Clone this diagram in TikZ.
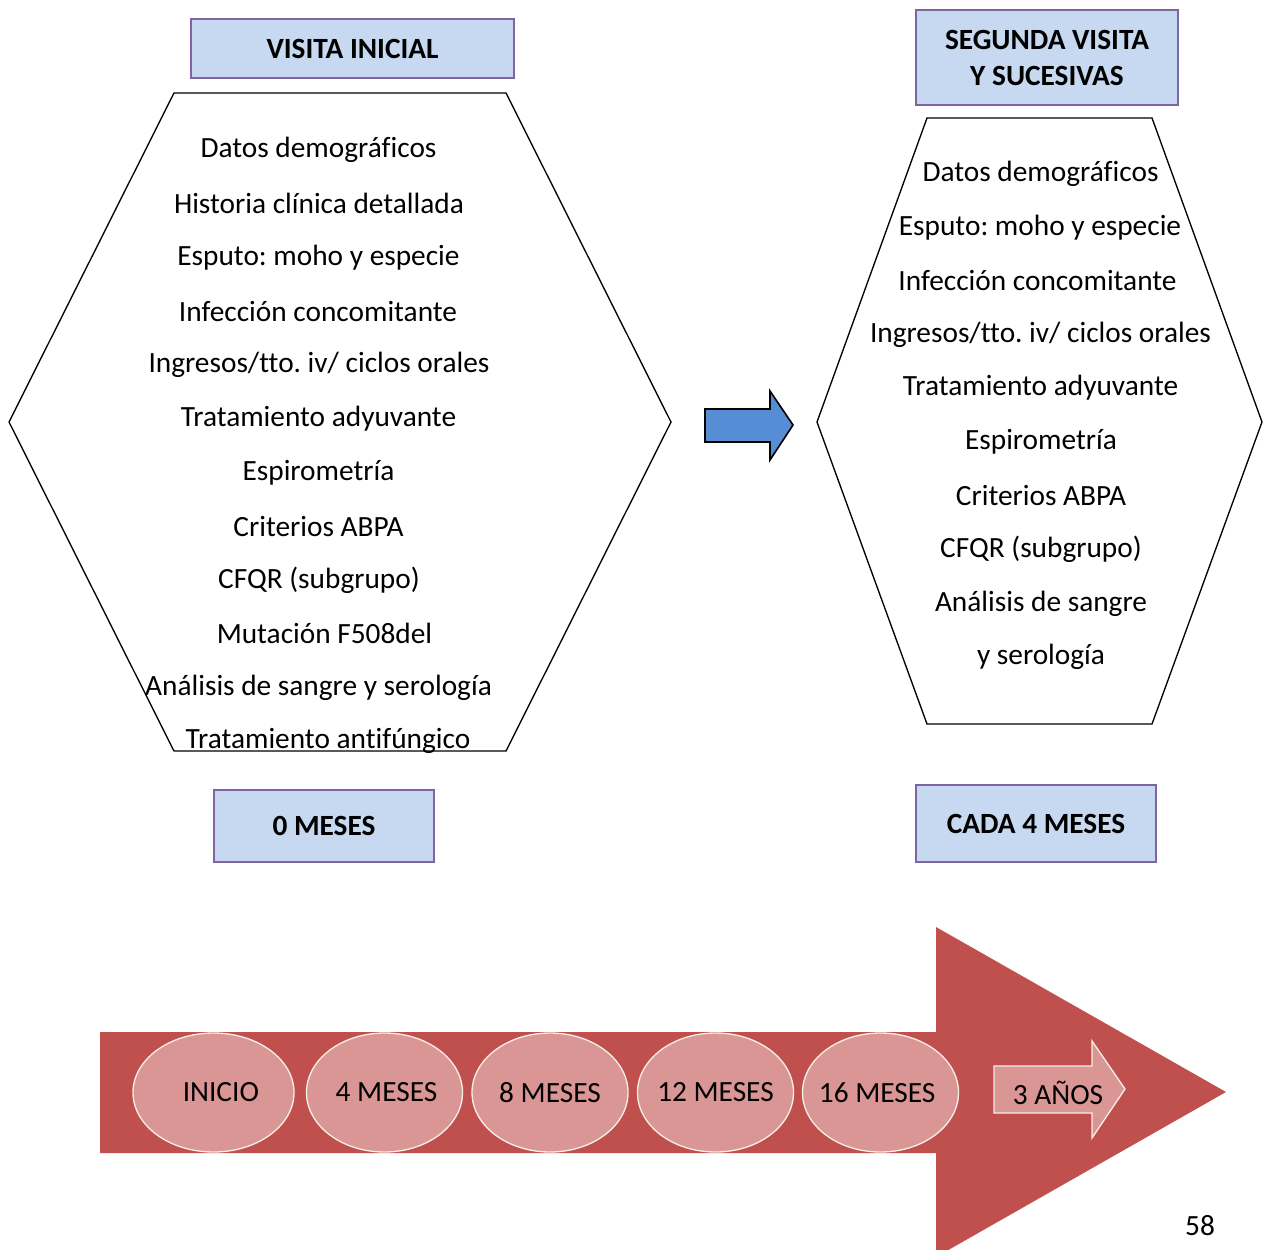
\documentclass[tikz,border=0pt]{standalone}
\usepackage{fontspec}
\setmainfont{Carlito}[Ligatures=NoCommon]
\usepackage{xcolor}
\usetikzlibrary{shapes.geometric}
\frenchspacing

\definecolor{hdrfill}{HTML}{C6D9F1}
\definecolor{hdrline}{HTML}{8064A2}
\definecolor{arrowblue}{HTML}{558ED5}
\definecolor{timered}{HTML}{C0504D}
\definecolor{stagepink}{HTML}{D99694}
\definecolor{stageline}{HTML}{F4EFE4}

\newcommand{\stagelabel}[1]{\makebox[0pt]{#1}}

\tikzset{
  hdrbox/.style={draw=hdrline, fill=hdrfill, line width=1.5pt, inner sep=0pt, align=center,
    font=\fontsize{22}{27}\selectfont\bfseries},
  item/.style={inner sep=0.75pt, yshift=-2pt, font=\fontsize{22}{26}\selectfont},
  stage/.style={ellipse, draw=stageline, fill=stagepink, line width=1pt, inner sep=0pt,
    minimum width=117pt, minimum height=89.25pt, font=\fontsize{22}{26}\selectfont}
}

\begin{document}
\begin{tikzpicture}[x=0.75pt,y=0.75pt,yscale=-1,xscale=1]
    \path[use as bounding box, clip] (0,0) rectangle (1263,1249);

    %Shape: Hexagon left
    \draw [line width=1pt]  (174,93) -- (506,93) -- (671,422) -- (506,751) -- (174,751) -- (9,422) -- cycle ;
    %Shape: Hexagon right
    \draw [line width=1pt]  (927,118) -- (1152,118) -- (1262,422) -- (1152,724) -- (927,724) -- (817,422) -- cycle ;

    %Shape: Right Arrow (blue)
    \draw [fill=arrowblue, line width=1.2pt]  (705,409) -- (770,409) -- (770,391) -- (793,425) -- (770,460) -- (770,442) -- (705,442) -- cycle ;

    %Shape: Right Arrow (timeline)
    \fill [timered]  (100,1032) -- (936,1032) -- (936,927) -- (1226,1092) -- (936,1257) -- (936,1153) -- (100,1153) -- cycle ;
    %Shape: Right Arrow (small)
    \draw [fill=stagepink, draw=stageline, line width=1pt]  (994,1066) -- (1092,1066) -- (1092,1041) -- (1125,1089) -- (1092,1138) -- (1092,1113) -- (994,1113) -- cycle ;

    % Header boxes
    \node (visita) [hdrbox, minimum width=242.25pt, minimum height=44.25pt] at (352.5,48.5) {VISITA INICIAL};
    \node (segunda) [hdrbox, minimum width=196.5pt, minimum height=71.25pt] at (1047,57.5) {SEGUNDA VISITA\\Y SUCESIVAS};
    \node (cero) [hdrbox, minimum width=165pt, minimum height=54pt] at (324,826) {0 MESES};
    \node (cada) [hdrbox, minimum width=180pt, minimum height=57.75pt] at (1036,823.5) {CADA 4 MESES};

    % Text Node (left list)
    \node (l1) [item] at (318.5,147) {Datos demográficos};
    \node (l2) [item] at (319,201) {Historia clínica detallada};
    \node (l3) [item] at (318.5,255) {Esputo: moho y especie};
    \node (l4) [item] at (318,309) {Infección concomitante};
    \node (l5) [item] at (319,362) {Ingresos/tto. iv/ ciclos orales};
    \node (l6) [item] at (318.5,416) {Tratamiento adyuvante};
    \node (l7) [item] at (318.5,470) {Espirometría};
    \node (l8) [item] at (318.5,524) {Criterios ABPA};
    \node (l9) [item] at (319,578) {CFQR (subgrupo)};
    \node (l10) [item] at (324.5,631) {Mutación F508del};
    \node (l11) [item] at (318.5,685) {Análisis de sangre y serología};
    \node (l12) [item] at (328,738) {Tratamiento antifúngico};

    % Text Node (right list)
    \node (r1) [item] at (1040.5,171) {Datos demográficos};
    \node (r2) [item] at (1040,225) {Esputo: moho y especie};
    \node (r3) [item] at (1037.5,278) {Infección concomitante};
    \node (r4) [item] at (1040.5,332) {Ingresos/tto. iv/ ciclos orales};
    \node (r5) [item] at (1040.5,385) {Tratamiento adyuvante};
    \node (r6) [item] at (1041,439) {Espirometría};
    \node (r7) [item] at (1041,493) {Criterios ABPA};
    \node (r8) [item] at (1041,547) {CFQR (subgrupo)};
    \node (r9) [item] at (1041,601) {Análisis de sangre};
    \node (r10) [item] at (1041,654) {y serología};

    % Timeline stages
    \node (inicio) [stage, minimum width=120.75pt] at (213.5,1092.5) {\stagelabel{\hspace{11pt}INICIO}};
    \node (m4) [stage] at (384.5,1092.5) {\stagelabel{\hspace{3pt}4 MESES}};
    \node (m8) [stage] at (550,1092.5) {\stagelabel{8 MESES}};
    \node (m12) [stage] at (715.5,1092.5) {\stagelabel{12 MESES}};
    \node (m16) [stage] at (880.5,1092.5) {\stagelabel{\hspace{-5pt}16 MESES}};
    \node (anos) [item] at (1058,1090) {3 AÑOS};

    % Text Node (page number)
    \node (pagina) [item] at (1200,1223) {58};

\end{tikzpicture}
\end{document}
